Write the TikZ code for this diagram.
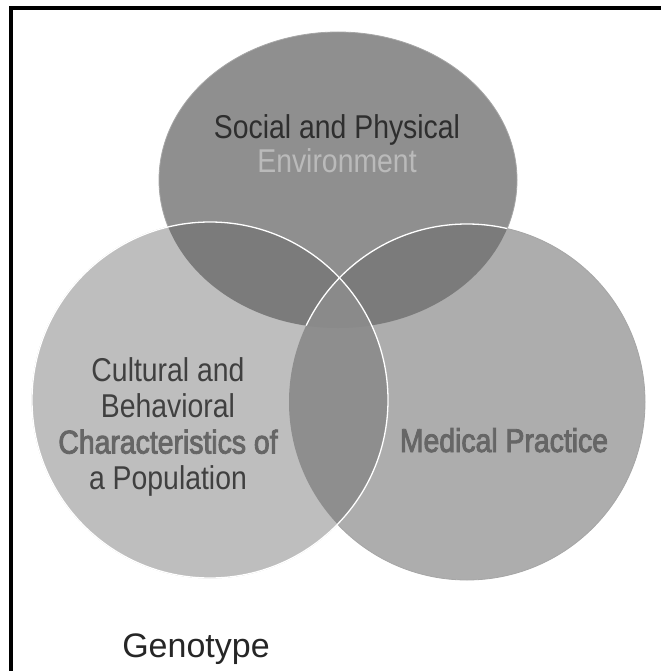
\documentclass[tikz,border=0pt]{standalone}
\usepackage{fontspec}
\setmainfont{Liberation Sans}
\newfontfamily\vennfont[FakeStretch=0.86]{Liberation Sans}
\newfontfamily\vennbold[FakeStretch=0.86,FakeBold=2.6]{Liberation Sans}
\usepackage{xcolor}

\definecolor{socialgray}{HTML}{8F8F8F}
\definecolor{culturegray}{HTML}{BEBEBE}
\definecolor{medgray}{HTML}{ADADAD}
\definecolor{lensgray}{HTML}{7B7B7B}
\definecolor{coregray}{HTML}{8E8E8E}
\definecolor{hubgray}{HTML}{8A8A8A}
\definecolor{envlight}{HTML}{BABABA}

\begin{document}
\begin{tikzpicture}[x=1pt, y=-1pt,
  frame/.style={line width=3.8pt, color=black},
  rim/.style={draw=black!35, line width=0.8pt},
  seam/.style={draw=white, line width=1.3pt},
  lbl/.style={font=\vennfont\fontsize{33}{36}\selectfont, align=center,
    inner sep=0pt},
  dark/.style={lbl, text=black!75},
  faint/.style={lbl, font=\vennbold\fontsize{33}{36}\selectfont, text=black!60}
]
\useasboundingbox (0,0) rectangle (661,671);

% Frame (top and left only)
\coordinate (fbl) at (10.8,671);
\coordinate (ftl) at (10.8,8);
\coordinate (ftr) at (661,8);
\draw[frame] (fbl) -- (ftl) -- (ftr);

% Centres of the three sets
\coordinate (env) at (338,180);
\coordinate (cult) at (210,400);
\coordinate (med) at (467,402);

% Sets
\fill[socialgray, rim] (env) ellipse [x radius=179pt, y radius=148pt];
\fill[medgray, rim] (med) circle [radius=178pt];
\fill[culturegray, rim] (cult) circle [radius=178pt];

% Overlaps with the environment
\begin{scope}
  \clip (env) ellipse [x radius=179pt, y radius=148pt];
  \fill[lensgray] (cult) circle [radius=178pt];
  \fill[lensgray] (med) circle [radius=178pt];
\end{scope}

% Overlap of culture and medicine, and the centre
\begin{scope}
  \clip (cult) circle [radius=178pt];
  \fill[coregray] (med) circle [radius=178pt];
  \clip (env) ellipse [x radius=179pt, y radius=148pt];
  \fill[hubgray] (med) circle [radius=178pt];
\end{scope}

% White seams
\begin{scope}
  \clip (env) ellipse [x radius=179pt, y radius=148pt];
  \draw[seam] (med) circle [radius=178pt];
\end{scope}
\draw[seam] (cult) circle [radius=178pt];

% Labels
\node[dark, text=black!82, font=\vennfont\fontsize{33}{34}\selectfont] (social)
  at (337,144) {Social and Physical\\\color{envlight}Environment};
\node[dark] (cultural) at (168,427)
  {Cultural and\\Behavioral\\\vennbold\color{black!60}Characteristics of\\a Population};
\node[faint, anchor=base] (medical) at (504,452) {Medical Practice};
\node[lbl, font=\fontsize{34}{36}\selectfont, text=black!85, anchor=base]
  (genotype) at (196,657) {Genotype};
\end{tikzpicture}
\end{document}
